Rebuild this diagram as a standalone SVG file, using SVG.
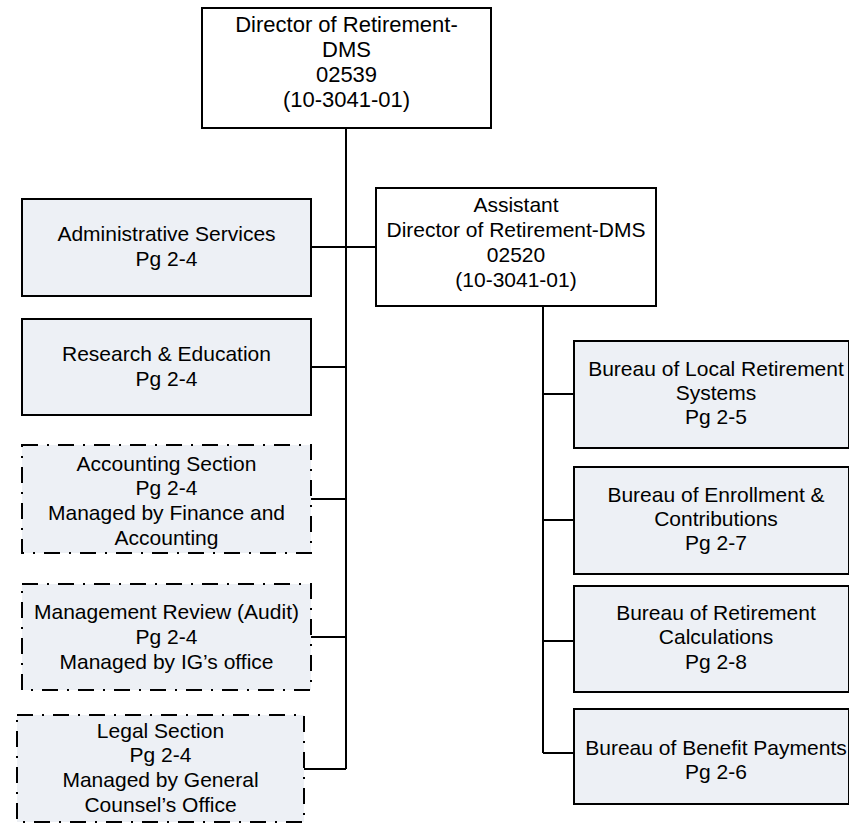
<svg xmlns="http://www.w3.org/2000/svg" width="849" height="823" viewBox="0 0 849 823">
  <style>
    .box { fill: #ffffff; stroke: #000000; stroke-width: 2; }
    .unit { fill: #edf0f5; stroke: #000000; stroke-width: 2; }
    .ext { fill: #edf0f5; stroke: #000000; stroke-width: 2; stroke-dasharray: 16 9 2 9; }
    .lbl { font-family: "Liberation Sans", Arial, sans-serif; font-size: 21px; fill: #000000; text-anchor: middle; }
    .big { font-size: 22px; }
    .wire { fill: none; stroke: #000000; stroke-width: 2; }
  </style>
  <rect width="849" height="823" fill="#ffffff"/>

  <!-- connectors -->
  <g id="connectors">
    <path class="wire" d="M346 128 V769"/>
    <path class="wire" d="M311 247 H376"/>
    <path class="wire" d="M311 367 H346"/>
    <path class="wire" d="M311 499 H346"/>
    <path class="wire" d="M311 637 H346"/>
    <path class="wire" d="M304 769 H346"/>
    <path class="wire" d="M543 306 V753"/>
    <path class="wire" d="M543 394 H574"/>
    <path class="wire" d="M543 520 H574"/>
    <path class="wire" d="M543 641 H574"/>
    <path class="wire" d="M543 753 H574"/>
  </g>

  <!-- director -->
  <g id="director">
    <rect class="box" x="202" y="8" width="289" height="120"/>
    <text class="lbl big" x="346.5" y="32">Director of Retirement-</text>
    <text class="lbl big" x="346.5" y="57">DMS</text>
    <text class="lbl big" x="346.5" y="82">02539</text>
    <text class="lbl big" x="346.5" y="107">(10-3041-01)</text>
  </g>

  <!-- left column -->
  <g id="admin-services">
    <rect class="unit" x="22" y="199" width="289" height="97"/>
    <text class="lbl" x="166.5" y="241">Administrative Services</text>
    <text class="lbl" x="166.5" y="266">Pg 2-4</text>
  </g>

  <g id="research-education">
    <rect class="unit" x="22" y="319" width="289" height="96"/>
    <text class="lbl" x="166.5" y="361">Research &amp; Education</text>
    <text class="lbl" x="166.5" y="386">Pg 2-4</text>
  </g>

  <g id="accounting-section">
    <rect class="ext" x="22" y="445" width="289" height="108"/>
    <text class="lbl" x="166.5" y="471">Accounting Section</text>
    <text class="lbl" x="166.5" y="495">Pg 2-4</text>
    <text class="lbl" x="166.5" y="520">Managed by Finance and</text>
    <text class="lbl" x="166.5" y="545">Accounting</text>
  </g>

  <g id="management-review">
    <rect class="ext" x="22" y="584" width="289" height="106"/>
    <text class="lbl" x="166.5" y="619">Management Review (Audit)</text>
    <text class="lbl" x="166.5" y="644">Pg 2-4</text>
    <text class="lbl" x="166.5" y="669">Managed by IG’s office</text>
  </g>

  <g id="legal-section">
    <rect class="ext" x="17" y="715" width="287" height="107"/>
    <text class="lbl" x="160.5" y="738">Legal Section</text>
    <text class="lbl" x="160.5" y="762">Pg 2-4</text>
    <text class="lbl" x="160.5" y="787">Managed by General</text>
    <text class="lbl" x="160.5" y="812">Counsel’s Office</text>
  </g>

  <!-- assistant director -->
  <g id="assistant-director">
    <rect class="box" x="376" y="188" width="280" height="118"/>
    <text class="lbl" x="516" y="212">Assistant</text>
    <text class="lbl" x="516" y="237">Director of Retirement-DMS</text>
    <text class="lbl" x="516" y="262">02520</text>
    <text class="lbl" x="516" y="287">(10-3041-01)</text>
  </g>

  <!-- right column -->
  <g id="local-retirement">
    <rect class="unit" x="574" y="341" width="275" height="107"/>
    <text class="lbl" x="716" y="376">Bureau of Local Retirement</text>
    <text class="lbl" x="716" y="400">Systems</text>
    <text class="lbl" x="716" y="424">Pg 2-5</text>
  </g>

  <g id="enrollment-contributions">
    <rect class="unit" x="574" y="467" width="275" height="107"/>
    <text class="lbl" x="716" y="502">Bureau of Enrollment &amp;</text>
    <text class="lbl" x="716" y="526">Contributions</text>
    <text class="lbl" x="716" y="550">Pg 2-7</text>
  </g>

  <g id="retirement-calculations">
    <rect class="unit" x="574" y="586" width="275" height="106"/>
    <text class="lbl" x="716" y="620">Bureau of Retirement</text>
    <text class="lbl" x="716" y="644">Calculations</text>
    <text class="lbl" x="716" y="669">Pg 2-8</text>
  </g>

  <g id="benefit-payments">
    <rect class="unit" x="574" y="709" width="275" height="95"/>
    <text class="lbl" x="716" y="755">Bureau of Benefit Payments</text>
    <text class="lbl" x="716" y="779">Pg 2-6</text>
  </g>
</svg>
